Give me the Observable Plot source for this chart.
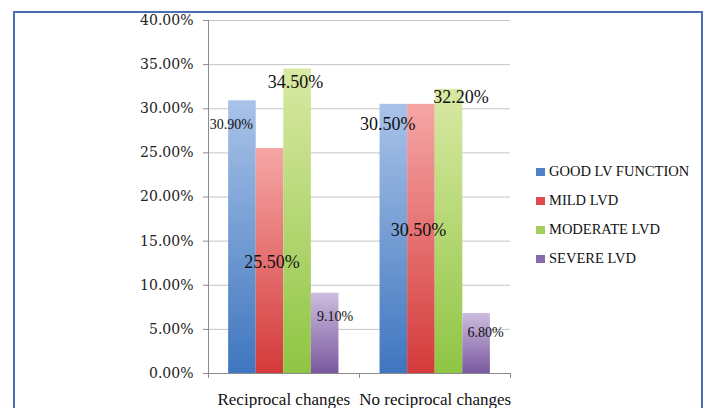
<!DOCTYPE html>
<html><head><meta charset="utf-8">
<script src="https://cdn.jsdelivr.net/npm/d3@7"></script>
<script src="https://cdn.jsdelivr.net/npm/@observablehq/plot@0.6"></script>
<style>
body{margin:0;background:#fff;}
#wrap{position:relative;width:705px;height:408px;overflow:hidden;font-family:"Liberation Serif",serif;background:#fff;}
#chart{position:absolute;left:0;top:0;}
#border{position:absolute;left:13px;top:11px;width:690px;height:430px;border:2px solid #4a6cb3;box-sizing:border-box;pointer-events:none;}
#legend{position:absolute;left:536px;top:157px;font-size:14.5px;color:#111;}
.row{display:flex;align-items:center;height:29px;white-space:nowrap;}
.sw{width:9px;height:8px;margin-right:4px;}
</style></head>
<body><div id="wrap"><div id="chart"></div><div id="legend"></div><div id="border"></div></div>
<script>
const groups = ["Reciprocal changes", "No reciprocal changes"];
const series = ["GOOD LV FUNCTION", "MILD LVD", "MODERATE LVD", "SEVERE LVD"];
const reciprocalValues = [30.9, 25.5, 34.5, 9.1];
const noReciprocalValues = [30.5, 30.5, 32.2, 6.8];
const yTicks = [0, 5, 10, 15, 20, 25, 30, 35, 40];

const values = [reciprocalValues, noReciprocalValues];

// layout of the clustered bars in bar-width units (outer padding, gap between clusters)
const outer = 0.73, gap = 1.49;
const xEnd = 2 * outer + 2 * series.length + gap;
const groupStart = gi => outer + gi * (series.length + gap);
const rows = [];
groups.forEach((g, gi) => series.forEach((s, si) => rows.push({
  group: g, series: s, value: values[gi][si],
  x1: groupStart(gi) + si, x2: groupStart(gi) + si + 1
})));
const groupCenters = groups.map((g, gi) => groupStart(gi) + series.length / 2);
const boundaries = [0, outer + series.length + gap / 2, xEnd];

// styling (Excel-like label placement and gradients)
const gradTop = ["#a9c3e8", "#f6a6a6", "#d9e9a3", "#cdbddf"];
const gradBottom = ["#3f76bf", "#d43a3a", "#8fc544", "#7a589f"];
const legendColor = ["#4f81c4", "#e04a4a", "#a6cc5c", "#8a68ae"];
const labelStyle = [
  {dx: -11, dy: 24, size: 14},
  {dx: 2, dy: 114, size: 18},
  {dx: -2, dy: 13, size: 18},
  {dx: 10, dy: 23, size: 14},
  {dx: -6, dy: 20, size: 18},
  {dx: -3, dy: 126, size: 18},
  {dx: 12, dy: 8, size: 18},
  {dx: 9, dy: 19, size: 14}
];
const pct = d => d.toFixed(2) + "%";

const plot = Plot.plot({
  width: 705, height: 408,
  marginLeft: 208, marginRight: 195, marginTop: 20, marginBottom: 35,
  style: {fontFamily: "Liberation Serif, serif", fontSize: "14px", color: "#222", background: "transparent", overflow: "visible"},
  x: {domain: [0, xEnd], label: null},
  y: {domain: [0, 40], label: null},
  color: {domain: series, range: series.map((s, i) => `url(#grad${i})`)},
  marks: [
    Plot.ruleY(yTicks, {stroke: "#c4c4c4", strokeOpacity: 1}),
    Plot.rectY(rows, {x1: "x1", x2: "x2", y: "value", fill: "series", inset: 0}),
    Plot.ruleY([0], {stroke: "#8c8c8c", strokeOpacity: 1}),
    Plot.ruleX([0], {stroke: "#8c8c8c", strokeOpacity: 1}),
    Plot.axisY(yTicks, {tickFormat: pct, tickSize: 5, tickPadding: 10, fontSize: 14, fontFamily: "DejaVu Serif, serif", stroke: "#8c8c8c", fill: "#222", label: null}),
    Plot.axisX(boundaries, {tickSize: 5, tickFormat: () => "", stroke: "#8c8c8c", label: null}),
    Plot.axisX(groupCenters, {tickSize: 0, tickPadding: 19, fontSize: 17, fill: "#111", label: null,
      tickFormat: (d, i) => groups[i]}),
    ...labelStyle.map((st, i) => Plot.text([rows[i]], {
      x: d => (d.x1 + d.x2) / 2, y: "value", text: d => pct(d.value),
      dx: st.dx, dy: st.dy, fontSize: st.size, fill: "#111"
    }))
  ]
});

const defs = d3.select(plot).insert("defs", ":first-child");
series.forEach((s, i) => {
  const g = defs.append("linearGradient").attr("id", `grad${i}`).attr("x1", 0).attr("y1", 0).attr("x2", 0).attr("y2", 1);
  g.append("stop").attr("offset", "0%").attr("stop-color", gradTop[i]);
  g.append("stop").attr("offset", "100%").attr("stop-color", gradBottom[i]);
});
document.getElementById("chart").appendChild(plot);

const legend = d3.select("#legend");
series.forEach((s, i) => {
  const r = legend.append("div").attr("class", "row");
  r.append("div").attr("class", "sw").style("background", legendColor[i]);
  r.append("span").text(s);
});
</script>
</body></html>
